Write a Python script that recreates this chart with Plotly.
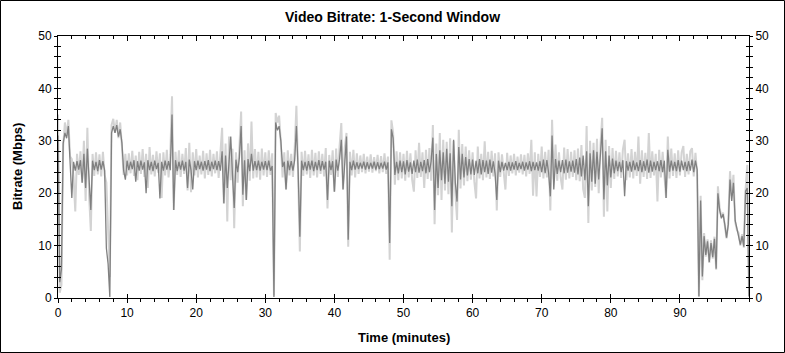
import plotly.graph_objects as go

# ---------------- data ----------------
STEP_MIN = 0.25  # sample spacing in minutes

# light grey series: raw 1-second bitrate (Mbps), one value every 0.25 min
raw_mbps = (
    [35.0, 1.0, 2.5, 29.0, 33.5, 31.0, 34.0, 27.0, 26.5, 23.0, 16.5, 27.5, 23.5, 28.0, 22.0, 30.0, 18.5, 32.5, 19.5, 12.8]      # 0-5
    + [27.5, 23.3, 27.8, 23.6, 27.4, 23.2, 27.9, 23.5, 22.0, 14.0, 4.0, 33.0, 34.2, 31.5, 34.0, 30.5, 33.5, 29.0, 23.5, 27.5]  # 5-10
    + [23.4, 27.6, 23.8, 28.1, 23.3, 27.2, 22.5, 27.9, 23.7, 28.4, 23.1, 27.5, 21.0, 28.8, 23.6, 27.3, 23.2, 28.0, 23.9, 27.6]  # 10-15
    + [19.1, 27.8, 23.4, 28.3, 23.0, 27.4, 38.5, 16.8, 27.9, 23.5, 28.2, 23.1, 27.5, 23.7, 28.6, 20.5, 29.6, 20.2, 27.8, 23.4]  # 15-20
    + [28.4, 23.0, 27.2, 23.6, 28.1, 22.8, 27.6, 23.5, 28.3, 23.2, 27.5, 23.8, 28.0, 22.9, 27.7, 32.5, 18.0, 29.5, 14.6, 30.8]  # 20-25
    + [22.5, 28.5, 13.3, 27.8, 22.0, 29.0, 35.6, 17.5, 28.2, 18.7, 29.5, 22.4, 33.7, 22.8, 28.4, 23.0, 27.9, 22.6, 28.5, 23.4]  # 25-30
    + [27.8, 23.1, 28.2, 23.5, 27.6, 0.5, 35.3, 33.5, 34.8, 29.5, 23.0, 27.8, 20.7, 28.2, 23.4, 27.5, 23.1, 28.4, 36.7, 23.6]   # 30-35
    + [8.9, 27.9, 23.3, 28.1, 23.6, 27.4, 22.9, 28.3, 23.4, 27.7, 23.0, 28.0, 23.7, 27.5, 23.2, 28.6, 17.1, 27.3, 23.5, 28.2]   # 35-40
    + [20.3, 28.5, 23.1, 29.0, 33.4, 20.7, 28.6, 31.5, 9.8, 27.9, 23.4, 28.3, 23.0, 27.6, 23.7, 27.2, 24.0, 27.5, 23.8, 27.0]   # 40-45
    + [24.1, 27.4, 23.9, 26.9, 24.2, 27.3, 23.8, 27.1, 24.0, 27.6, 23.7, 27.0, 7.3, 33.9, 31.5, 21.6, 28.0, 22.5, 27.8, 22.8]   # 45-50
    + [27.5, 22.4, 28.1, 23.0, 27.6, 22.6, 20.3, 28.2, 22.9, 29.6, 23.1, 27.8, 21.0, 28.3, 22.7, 28.6, 22.4, 33.0, 14.1, 29.5]  # 50-55
    + [19.6, 31.5, 18.7, 30.2, 20.5, 29.8, 19.8, 30.5, 12.5, 30.0, 20.2, 14.9, 32.1, 20.9, 29.4, 21.5, 28.9, 22.3, 28.2, 22.6]  # 55-60
    + [27.8, 22.2, 19.0, 28.9, 22.8, 27.5, 22.5, 29.9, 23.0, 27.9, 22.7, 28.1, 23.2, 27.6, 16.7, 27.8, 23.1, 27.4, 23.5, 20.7]  # 60-65
    + [27.7, 23.3, 27.2, 23.8, 27.5, 23.4, 27.0, 23.9, 27.4, 23.6, 27.3, 23.2, 27.6, 23.7, 30.2, 19.5, 27.8, 19.4, 27.5, 23.1]  # 65-70
    + [28.9, 22.8, 27.9, 23.0, 28.3, 16.7, 34.0, 22.6, 29.3, 22.4, 27.8, 22.9, 20.7, 28.7, 22.6, 28.4, 22.8, 27.9, 23.1, 28.2]  # 70-75
    + [22.5, 28.5, 22.3, 29.2, 20.8, 19.1, 32.8, 14.3, 30.0, 20.5, 29.6, 21.2, 30.4, 20.0, 29.1, 34.4, 15.5, 30.2, 16.5, 29.0]  # 75-80
    + [21.0, 28.6, 22.7, 28.1, 23.2, 27.8, 22.9, 28.3, 30.2, 22.5, 27.6, 23.0, 28.4, 22.8, 27.9, 23.3, 30.8, 21.8, 28.2, 23.1]  # 80-85
    + [27.7, 22.7, 31.5, 22.9, 28.0, 23.4, 27.5, 18.4, 28.3, 23.0, 27.9, 22.6, 19.1, 30.8, 22.8, 28.5, 23.3, 27.6, 22.9, 28.2]  # 85-90
    + [23.4, 27.8, 29.0, 23.1, 27.5, 23.6, 28.0, 28.6, 23.2, 27.7, 23.5, 0.3, 19.5, 3.4, 12.4, 7.9, 11.2, 6.7, 11.0, 7.5]      # 90-95
    + [11.7, 5.4, 21.3, 17.2, 15.5, 16.3, 13.8, 11.4, 14.2, 24.2, 19.5, 23.5, 14.5, 13.0, 12.4, 10.0, 12.2, 9.6, 20.7, 25.4]   # 95-100
    + [0.3]
)

# dark grey series: smoothed bitrate (Mbps), same sample times
avg_mbps = (
    [31.0, 3.0, 5.5, 29.5, 31.5, 30.5, 32.8, 27.0, 19.1, 26.0, 24.3, 26.1, 24.5, 26.3, 22.0, 27.5, 21.0, 28.5, 21.5, 16.8]      # 0-5
    + [26.2, 24.4, 26.0, 24.2, 26.3, 24.5, 26.1, 24.3, 9.5, 6.5, 0.2, 31.5, 32.8, 31.5, 33.0, 30.8, 32.2, 29.6, 24.3, 22.6]    # 5-10
    + [26.2, 24.4, 26.0, 24.6, 26.3, 22.2, 26.1, 24.3, 26.2, 24.5, 25.9, 20.0, 26.3, 24.4, 26.0, 24.2, 26.2, 24.6, 25.8, 19.0]  # 10-15
    + [26.0, 24.3, 26.2, 24.5, 26.1, 24.4, 35.0, 16.8, 26.3, 24.2, 26.0, 24.5, 26.2, 24.3, 26.0, 21.0, 26.4, 24.4, 20.7, 26.1]  # 15-20
    + [24.4, 26.2, 24.6, 26.0, 24.3, 26.1, 24.5, 26.3, 24.2, 26.0, 24.6, 26.2, 24.4, 26.1, 24.3, 28.0, 18.1, 27.2, 21.0, 26.8]  # 20-25
    + [30.8, 23.5, 17.2, 26.4, 24.0, 26.8, 32.8, 19.7, 26.3, 18.7, 26.5, 24.2, 27.5, 24.3, 26.1, 24.4, 26.2, 24.3, 26.0, 24.5]  # 25-30
    + [26.1, 24.4, 26.2, 24.3, 25.2, 0.2, 33.5, 32.0, 32.8, 30.0, 25.0, 26.0, 20.7, 26.2, 24.4, 26.1, 24.3, 26.3, 32.8, 24.5]   # 30-35
    + [11.7, 26.2, 24.4, 26.0, 24.3, 26.1, 24.5, 26.2, 24.2, 26.0, 24.4, 26.3, 24.3, 26.1, 24.5, 26.0, 18.7, 26.2, 24.4, 26.1]  # 35-40
    + [20.3, 26.4, 24.3, 26.5, 30.2, 20.7, 26.3, 30.8, 11.1, 26.0, 24.4, 26.2, 24.5, 25.9, 24.6, 25.8, 24.7, 26.0, 24.5, 25.9]  # 40-45
    + [24.6, 25.8, 24.7, 26.0, 24.5, 25.9, 24.6, 25.8, 24.7, 26.0, 24.5, 25.9, 10.5, 32.2, 30.5, 23.5, 26.0, 23.8, 26.2, 24.0]  # 45-50
    + [26.1, 23.6, 26.3, 24.1, 25.9, 23.7, 26.2, 24.0, 26.4, 23.9, 26.0, 24.2, 26.3, 23.8, 26.5, 24.0, 26.1, 30.6, 16.8, 27.5]  # 50-55
    + [21.0, 28.2, 22.5, 27.8, 21.8, 28.5, 22.2, 27.6, 17.5, 30.2, 22.0, 18.4, 28.8, 22.6, 27.5, 23.0, 26.9, 23.4, 26.5, 23.6]  # 55-60
    + [26.4, 23.5, 26.2, 23.8, 26.5, 23.6, 26.3, 24.0, 26.2, 23.7, 26.4, 23.9, 26.1, 23.8, 18.7, 26.2, 24.0, 26.0, 24.3, 25.8]  # 60-65
    + [24.4, 26.0, 24.3, 25.9, 24.5, 26.1, 24.4, 25.8, 24.6, 26.0, 24.3, 25.9, 24.5, 26.1, 24.2, 26.0, 24.4, 25.9, 24.3, 26.1]  # 65-70
    + [24.0, 26.4, 23.8, 26.3, 23.9, 19.4, 31.0, 20.7, 26.5, 23.7, 26.2, 24.0, 26.3, 23.8, 26.4, 23.9, 26.1, 24.1, 26.2, 23.9]  # 70-75
    + [26.5, 23.6, 26.8, 23.2, 27.2, 22.5, 28.0, 17.5, 27.6, 22.2, 28.2, 21.8, 27.9, 22.6, 27.4, 32.4, 18.8, 28.0, 21.5, 27.2]  # 75-80
    + [23.0, 26.6, 23.8, 26.2, 24.2, 26.0, 24.0, 26.3, 19.4, 26.1, 24.3, 26.0, 24.1, 26.2, 24.4, 25.9, 24.2, 26.3, 24.0, 26.1]  # 80-85
    + [24.3, 26.4, 23.9, 26.2, 24.1, 26.0, 24.4, 26.1, 24.2, 26.3, 24.0, 26.2, 19.1, 28.3, 24.1, 26.2, 24.3, 26.0, 24.2, 26.3]  # 85-90
    + [24.1, 26.2, 24.4, 26.0, 24.2, 26.1, 24.3, 26.4, 24.0, 26.2, 24.5, 0.3, 18.6, 4.1, 11.8, 8.2, 10.8, 6.9, 10.5, 7.8]      # 90-95
    + [11.3, 5.6, 20.0, 16.8, 15.2, 16.0, 14.0, 11.5, 14.0, 22.6, 18.5, 22.0, 14.8, 13.2, 12.2, 10.2, 11.8, 9.8, 20.4, 21.0]    # 95-100
    + [0.3]
)

minutes = [i * STEP_MIN for i in range(len(raw_mbps))]

x_tick_vals = [0, 10, 20, 30, 40, 50, 60, 70, 80, 90]
y_tick_vals = [0, 10, 20, 30, 40, 50]
X_RANGE = [0, 100]
Y_RANGE = [0, 50]

TITLE = "Video Bitrate: 1-Second Window"
X_TITLE = "Time (minutes)"
Y_TITLE = "Bitrate (Mbps)"

# ---------------- figure ----------------
FONT = "Liberation Sans, Arial, sans-serif"
W, H = 785, 353
ML, MR, MT, MB = 58, 36, 36, 55
PW, PH = W - ML - MR, H - MT - MB

fig = go.Figure()
fig.add_trace(go.Scatter(x=minutes, y=raw_mbps, mode="lines",
                         line=dict(color="#d3d3d3", width=2), hoverinfo="skip"))
fig.add_trace(go.Scatter(x=minutes, y=avg_mbps, mode="lines",
                         line=dict(color="#808080", width=1.3), hoverinfo="skip"))
# empty traces so the overlay axes (used for crossing tick marks) exist
for xa, ya in [("x2", "y2"), ("x3", "y3"), ("x", "y4")]:
    fig.add_trace(go.Scatter(x=[None], y=[None], xaxis=xa, yaxis=ya,
                             mode="lines", hoverinfo="skip", showlegend=False))

tickfont = dict(family=FONT, size=12, color="black")
base = dict(showgrid=False, zeroline=False, linecolor="black", linewidth=1,
            tickcolor="black", tickwidth=1, fixedrange=True)
minor_out = dict(tickmode="linear", tick0=0, dtick=2, ticks="outside",
                 ticklen=3, tickcolor="black", tickwidth=1)
minor_in = dict(tickmode="linear", tick0=0, dtick=2, ticks="inside",
                ticklen=3, tickcolor="black", tickwidth=1)

fig.update_layout(
    width=W, height=H,
    margin=dict(l=ML, r=MR, t=MT, b=MB, pad=0),
    paper_bgcolor="white", plot_bgcolor="white",
    showlegend=False,
    font=dict(family=FONT, size=12, color="black"),
    xaxis=dict(**base, range=X_RANGE, tickmode="array", tickvals=x_tick_vals,
               ticks="outside", ticklen=4, showline=True, tickfont=tickfont,
               minor=minor_out),
    xaxis2=dict(**base, range=X_RANGE, overlaying="x", side="top", anchor="y",
                tickmode="array", tickvals=x_tick_vals, ticks="inside", ticklen=5,
                showline=True, showticklabels=False, minor=minor_in),
    xaxis3=dict(**base, range=X_RANGE, overlaying="x", side="bottom", anchor="y",
                tickmode="array", tickvals=x_tick_vals, ticks="inside", ticklen=4,
                showline=False, showticklabels=False),
    yaxis=dict(**base, range=Y_RANGE, tickmode="array", tickvals=y_tick_vals,
               ticks="outside", ticklen=3, showline=True, tickfont=tickfont,
               minor=minor_out),
    yaxis2=dict(**base, range=Y_RANGE, overlaying="y", side="right", anchor="x",
                tickmode="array", tickvals=y_tick_vals, ticks="outside", ticklen=3,
                showline=True, tickfont=tickfont, minor=minor_out),
    yaxis3=dict(**base, range=Y_RANGE, overlaying="y", side="left", anchor="x",
                tickmode="array", tickvals=y_tick_vals, ticks="inside", ticklen=3,
                showline=False, showticklabels=False, minor=minor_in),
    yaxis4=dict(**base, range=Y_RANGE, overlaying="y", side="right", anchor="x",
                tickmode="array", tickvals=y_tick_vals, ticks="inside", ticklen=3,
                showline=False, showticklabels=False, minor=minor_in),
    title=dict(text="<b>" + TITLE + "</b>", x=0.5, xref="container", xanchor="center",
               y=1 - 17 / H, yref="container", yanchor="middle",
               font=dict(family=FONT, size=14, color="black")),
)

fig.add_annotation(text="<b>" + X_TITLE + "</b>", xref="paper", yref="paper",
                   x=0.5, y=-(337 - (MT + PH)) / PH,
                   xanchor="center", yanchor="middle", showarrow=False,
                   font=dict(family=FONT, size=13, color="black"))
fig.add_annotation(text="<b>" + Y_TITLE + "</b>", xref="paper", yref="paper",
                   x=(17 - ML) / PW, y=0.5, textangle=-90,
                   xanchor="center", yanchor="middle", showarrow=False,
                   font=dict(family=FONT, size=13, color="black"))

# outer frame around the whole image
fig.add_shape(type="rect", xref="paper", yref="paper",
              x0=(0.5 - ML) / PW, x1=(W - 0.5 - ML) / PW,
              y0=-(H - 0.5 - MT - PH) / PH, y1=(MT + PH - 0.5) / PH,
              line=dict(color="black", width=1), fillcolor="rgba(0,0,0,0)", layer="above")

fig.write_html("out.html")
